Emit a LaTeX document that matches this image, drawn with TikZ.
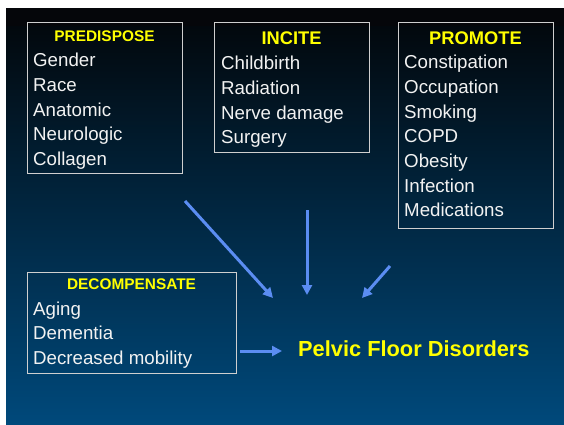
\documentclass[tikz,border=0pt]{standalone}
\usepackage{fontspec}
\setmainfont{Liberation Sans}
\usetikzlibrary{arrows.meta}
\definecolor{bgtop}{HTML}{02080D}
\definecolor{bgband}{HTML}{05060A}
\definecolor{bgmid}{HTML}{002E4C}
\definecolor{bgbot}{HTML}{00497B}
\definecolor{arrowblue}{HTML}{5B8DF2}
\definecolor{boxline}{HTML}{CFCFCF}
\definecolor{itemwhite}{HTML}{F2F2F2}
\definecolor{headyellow}{HTML}{FFFF00}
\begin{document}
\begin{tikzpicture}[x=1pt,y=-1pt,
  groupbox/.style={draw=boxline,line width=0.9pt,inner sep=0pt,anchor=north west},
  item/.style={anchor=base west,inner sep=0pt,text=itemwhite,font=\fontsize{18.7}{24}\selectfont},
  headsmall/.style={anchor=base,inner sep=0pt,text=headyellow,font=\fontsize{15.4}{18}\selectfont\bfseries},
  headbig/.style={anchor=base,inner sep=0pt,text=headyellow,font=\fontsize{18.3}{22}\selectfont\bfseries},
  flow/.style={draw=arrowblue,line width=3pt,-{Triangle[length=10pt,width=10pt]}}]
\useasboundingbox (0,0) rectangle (564,424);
% background panel
\fill[white] (0,0) rectangle (564,424);
\shade[top color=bgtop,middle color=bgmid,bottom color=bgbot] (6,25) rectangle (564,424);
\fill[bgband] (6,8) rectangle (564,25.5);

% group boxes
\node[groupbox,minimum width=155pt,minimum height=151pt] (predispose) at (27,22) {};
\node[groupbox,minimum width=155pt,minimum height=130pt] (incite) at (214,22) {};
\node[groupbox,minimum width=155pt,minimum height=206pt] (promote) at (398,22) {};
\node[groupbox,minimum width=209pt,minimum height=101pt] (decomp) at (27,272) {};

% headings
\node[headsmall] (predispose-h) at (104.5,41) {PREDISPOSE};
\node[headbig] (incite-h) at (291.5,44) {INCITE};
\node[headbig] (promote-h) at (475.5,44) {PROMOTE};
\node[headsmall] (decomp-h) at (131.5,289) {DECOMPENSATE};

% factor lists
\foreach \t/\y [count=\i] in {Gender/66,Race/91,Anatomic/116,Neurologic/140.5,Collagen/165}
  \node[item] (predispose-\i) at (33,\y) {\t};
\foreach \t/\y [count=\i] in {Childbirth/69,Radiation/94,Nerve damage/119,Surgery/143.5}
  \node[item] (incite-\i) at (221,\y) {\t};
\foreach \t/\y [count=\i] in {Constipation/68.5,Occupation/93,Smoking/118,COPD/142.5,Obesity/167,Infection/192,Medications/216.5}
  \node[item] (promote-\i) at (404,\y) {\t};
\foreach \t/\y [count=\i] in {Aging/315,Dementia/339.5,Decreased mobility/364}
  \node[item] (decomp-\i) at (33,\y) {\t};

% outcome
\node[anchor=base west,inner sep=0pt,text=headyellow,font=\fontsize{21.8}{26}\selectfont\bfseries] (pfd) at (298,356) {Pelvic Floor Disorders};

% arrow ends
\coordinate (a1s) at (185,201);
\coordinate (a1e) at (273,298);
\coordinate (a2s) at (307,210);
\coordinate (a2e) at (307,295);
\coordinate (a3s) at (390,266);
\coordinate (a3e) at (362,298);
\coordinate (a4s) at (240,351);
\coordinate (a4e) at (282,351);

\draw[flow] (a1s) -- (a1e);
\draw[flow] (a2s) -- (a2e);
\draw[flow] (a3s) -- (a3e);
\draw[flow] (a4s) -- (a4e);
\end{tikzpicture}
\end{document}
